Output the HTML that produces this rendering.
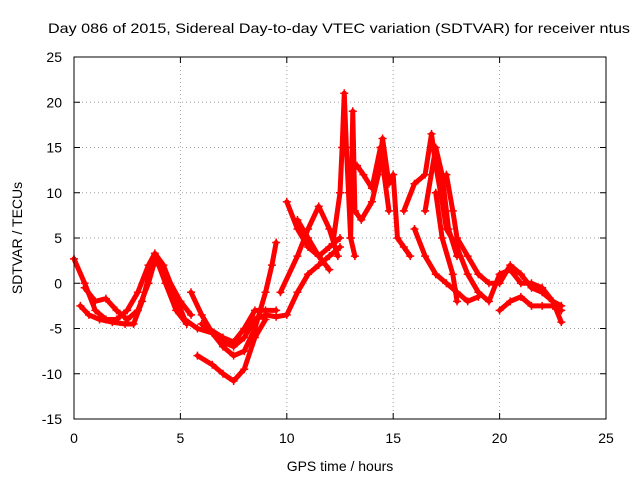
<!DOCTYPE html>
<html><head><meta charset="utf-8"><style>
body{margin:0;background:#fff}
svg{font-family:"Liberation Sans",sans-serif;font-size:14px}
</style></head><body>
<svg id="chart" width="640" height="480">
<rect width="640" height="480" fill="#fff"/>
<text x="48" y="33" textLength="582" lengthAdjust="spacingAndGlyphs">Day 086 of 2015, Sidereal Day-to-day VTEC variation (SDTVAR) for receiver ntus</text>
<text x="340" y="471" text-anchor="middle">GPS time / hours</text>
<text x="22" y="238" text-anchor="middle" transform="rotate(-90 22 238)">SDTVAR / TECUs</text>
<g id="grid"></g><g id="marks"></g>
<rect x="74" y="57" width="532" height="362" fill="none" stroke="#000"/>
</svg>
<script>
const xTicks=[0,5,10,15,20,25];
const yTicks=[-15,-10,-5,0,5,10,15,20,25];
const trackA=[[0,2.7],[0.5,0],[1,-3],[1.5,-4],[2,-4],[2.5,-3],[3,-1],[3.5,2],[3.8,3.3],[4.2,2],[4.7,-1],[5.2,-4],[5.8,-5],[6.5,-5.5],[7,-6.5],[7.5,-7],[8,-6],[8.5,-4],[9,-3.5],[9.5,-3.7],[10,-3.5],[10.5,-1],[11,1],[11.5,2],[12,3],[12.5,4]];
const trackB=[[0.3,-2.5],[0.7,-3.5],[1.2,-4],[1.8,-4.3],[2.4,-4.5],[2.8,-4.5],[3.2,-2],[3.6,1.5],[3.9,2.5],[4.3,0],[4.8,-3],[5.3,-4.5]];
const trackC=[[0.5,-0.5],[1,-2],[1.5,-1.7],[2,-3],[2.5,-4],[3,-3],[3.5,0],[3.8,2.5],[4.3,1],[5,-2],[5.5,-3.5]];
const trackD=[[5.5,-1],[6,-3.5],[6.5,-5.5],[7,-7],[7.5,-8],[8,-7.5],[8.5,-5],[9,-1],[9.3,2],[9.5,4.5]];
const trackE=[[5.8,-8],[6.5,-9],[7,-10],[7.5,-10.8],[8,-9.5],[8.5,-6],[9,-4]];
const trackF=[[6,-4.5],[7,-6],[7.5,-6.5],[8,-5],[8.5,-3],[9,-3],[9.5,-3]];
const trackG=[[10,9],[10.5,6],[11,4],[11.5,3],[12,4],[12.5,5]];
const trackH=[[9.7,-1],[10.5,3],[11,6],[11.5,8.5],[12,6],[12.4,3]];
const trackI=[[10.5,7],[11,5],[11.5,3],[12,1.5]];
const trackJ=[[12.2,5],[12.5,10],[12.6,15],[12.7,21],[12.8,15],[12.9,10],[13,5],[13.2,3]];
const trackK=[[13,5],[13.1,19],[13.2,8],[13.5,7],[14,9],[14.3,12],[14.5,16],[14.8,11],[15,12],[15.2,5],[15.5,4],[15.8,3]];
const trackL=[[13.3,13],[13.6,12],[14,10.5],[14.4,15],[14.8,8]];
const trackM=[[15.5,8],[16,11],[16.5,12],[16.8,16.5],[17,13],[17.3,9],[17.5,6],[18,4],[18.5,1],[19,-1],[19.5,-2],[20,1],[20.5,1.5],[21,0],[21.5,0],[22,-0.5],[22.5,-2],[22.9,-4.3]];
const trackN=[[16,6],[16.5,3],[17,1],[17.5,0],[18,-1],[18.5,-2],[19,-1.5]];
const trackO=[[17.5,12],[17.8,8],[18,5],[18.5,3],[19,1],[19.5,0],[20,0],[20.5,2],[21,1],[21.5,-0.5],[22,-1],[22.5,-2],[22.9,-2.5]];
const trackP=[[20,-3],[20.5,-2],[21,-1.5],[21.5,-2.5],[22,-2.5],[22.5,-2.5],[22.9,-3]];
const trackQ=[[17,10],[17.3,5],[17.8,1],[18,-2]];
const trackR=[[16.5,8],[17,15],[17.3,12],[17.6,6],[18,3]];
const tracks=[trackA,trackB,trackC,trackD,trackE,trackF,trackG,trackH,trackI,trackJ,trackK,trackL,trackM,trackN,trackO,trackP,trackQ,trackR];
const X0=74,X1=606,Y0=419,Y1=57;
const sx=v=>X0+(v-0)/(25-0)*(X1-X0);
const sy=v=>Y0-(v+15)/(40)*(Y0-Y1);
const NS="http://www.w3.org/2000/svg";
const grid=document.getElementById('grid'),marks=document.getElementById('marks');
function mk(t,a,p){const e=document.createElementNS(NS,t);for(const k in a)e.setAttribute(k,a[k]);p.appendChild(e);return e;}
xTicks.forEach(v=>{const x=sx(v);
 if(v>0&&v<25){const l=mk('line',{x1:x,x2:x,y1:Y0,y2:Y1,stroke:'#a0a0a0','stroke-dasharray':'1,3'},grid);
 
 }
 const t=mk('text',{x:x,y:443,'text-anchor':'middle'},grid);t.textContent=v;
 
 
 mk('line',{x1:x,x2:x,y1:Y0,y2:Y0-6,stroke:'#000'},grid);mk('line',{x1:x,x2:x,y1:Y1,y2:Y1+6,stroke:'#000'},grid);});
yTicks.forEach(v=>{const y=sy(v);
 if(v>-15&&v<25){const l=mk('line',{x1:X0,x2:X1,y1:y,y2:y,stroke:'#a0a0a0','stroke-dasharray':'1,3'},grid);
 
 }
 const t=mk('text',{x:62,y:y+5,'text-anchor':'end'},grid);t.textContent=v;
 
 
 mk('line',{x1:X0,x2:X0+6,y1:y,y2:y,stroke:'#000'},grid);mk('line',{x1:X1,x2:X1-6,y1:y,y2:y,stroke:'#000'},grid);});
tracks.forEach((tr,i)=>{
 const pl=mk('polyline',{points:tr.map(p=>sx(p[0])+','+sy(p[1])).join(' '),fill:'none',stroke:'#f00','stroke-width':5,'stroke-linejoin':'round','stroke-linecap':'round'},marks);
 
 
 tr.forEach(p=>{const x=sx(p[0]),y=sy(p[1]);
  const m=mk('path',{d:`M${x-4},${y}H${x+4}M${x},${y-4}V${y+4}`,stroke:'#f00','stroke-width':1.5},marks);
  
  });
});
</script>
</body></html>
